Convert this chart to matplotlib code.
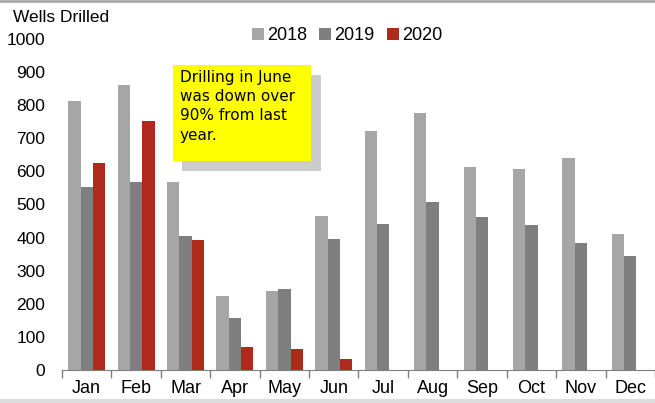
import numpy as np
import matplotlib
matplotlib.use("Agg")
from matplotlib import pyplot as plt
from matplotlib.patches import Rectangle
from matplotlib.lines import Line2D

months = ["Jan", "Feb", "Mar", "Apr", "May", "Jun", "Jul", "Aug", "Sep", "Oct", "Nov", "Dec"]
wells_2018 = [813, 861, 568, 224, 239, 465, 722, 776, 613, 607, 640, 411]
wells_2019 = [553, 567, 405, 157, 245, 396, 441, 507, 462, 438, 384, 344]
wells_2020 = [625, 752, 393, 69, 63, 33]
series_labels = ["2018", "2019", "2020"]
colors = ["#A6A6A6", "#7F7F7F", "#AE2A1C"]
yticks = [0, 100, 200, 300, 400, 500, 600, 700, 800, 900, 1000]

plt.rcParams['font.family'] = ['Liberation Sans', 'DejaVu Sans']

W, H = 655, 403
fig = plt.figure(figsize=(W / 100, H / 100), dpi=100)
ax = fig.add_axes([62 / W, (H - 370) / H, (655 - 62) / W, (370 - 39) / H])

x = np.arange(len(months))
bw = 0.25
ax.bar(x - bw, wells_2018, bw, color=colors[0], linewidth=0)
ax.bar(x, wells_2019, bw, color=colors[1], linewidth=0)
ax.bar(np.arange(len(wells_2020)) + bw, wells_2020, bw, color=colors[2], linewidth=0)

ax.set_xlim(-0.5, len(months) - 0.5)
ax.set_ylim(0, 1000)
ax.set_yticks(yticks)
ax.set_yticklabels([str(v) for v in yticks], fontsize=12.5)
ax.set_xticks(x)
ax.set_xticklabels(months, fontsize=13)
ax.set_xticks(np.arange(len(months) + 1) - 0.5, minor=True)
ax.tick_params(axis='x', which='major', length=0, pad=7)
ax.tick_params(axis='x', which='minor', length=6, color="#7F7F7F", width=1)
ax.tick_params(axis='y', length=0, pad=12)
for s in ["top", "right", "left"]:
    ax.spines[s].set_visible(False)
ax.spines["bottom"].set_color("#7F7F7F")

fig.text(13 / W, (H - 18) / H, "Wells Drilled", fontsize=12.5, va='center', ha='left')

handles = [Line2D([], [], marker='s', linestyle='none', markersize=8,
                  markerfacecolor=c, markeredgewidth=0) for c in colors]
fig.legend(handles, series_labels, loc='center left', ncol=3, frameon=False,
           bbox_to_anchor=(242 / W, (H - 36) / H), fontsize=13,
           handletextpad=0.1, columnspacing=0.6, handlelength=0.8, borderpad=0)

# annotation box with shadow
fig.add_artist(Rectangle((182 / W, (H - 171) / H), 139 / W, 96 / H,
                         transform=fig.transFigure, color="#CCCCCC", lw=0))
fig.add_artist(Rectangle((173 / W, (H - 161) / H), 138 / W, 96 / H,
                         transform=fig.transFigure, color="#FFFF00", lw=0))
fig.text(180 / W, (H - 70) / H, "Drilling in June\nwas down over\n90% from last\nyear.",
         fontsize=11, va='top', ha='left', linespacing=1.35, family=['DejaVu Sans'])

# border lines
fig.add_artist(Line2D([0, 1], [1 - 1 / H, 1 - 1 / H], transform=fig.transFigure, color="#AAAAAA", lw=2))
fig.add_artist(Line2D([0, 1], [2 / H, 2 / H], transform=fig.transFigure, color="#DDDDDD", lw=3))

fig.savefig("out.png", dpi=100)
